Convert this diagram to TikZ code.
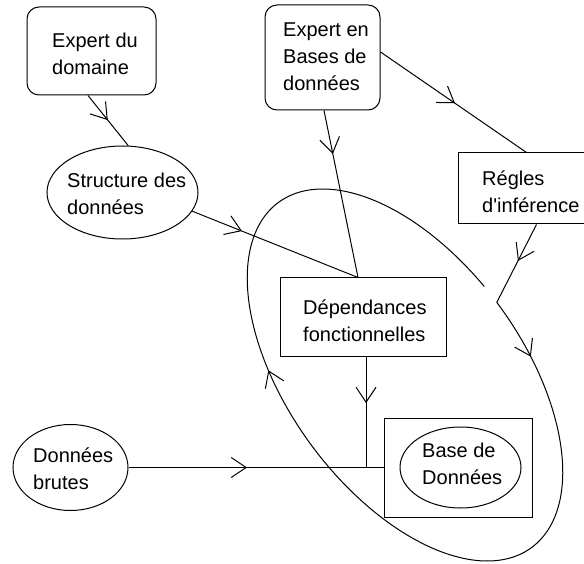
\documentclass[tikz,border=0pt]{standalone}
\usepackage{fontspec}
\setmainfont{Liberation Sans}
\usetikzlibrary{arrows.meta,calc,decorations.markings,shapes.geometric}
\tikzset{
  shp/.style={draw, line width=1pt, inner sep=0pt},
  rbox/.style={shp, rectangle, rounded corners=12pt},
  sbox/.style={shp, rectangle},
  ell/.style={shp, ellipse},
  txt/.style={inner sep=0pt, anchor=north west, align=left, font=\fontsize{20}{27}\selectfont},
  conn/.style={line width=1pt},
  midarrow/.style={conn, postaction={decorate}, decoration={markings, mark=at position #1 with {\arrow{Straight Barb[length=15pt,width=20pt,line width=1pt]}}}}
}
\begin{document}
\begin{tikzpicture}[x=1pt,y=-1pt]
\useasboundingbox (0,0) rectangle (584,564);
\fill[white] (0,0) rectangle (584,564);
\clip (0,0) rectangle (584,564);

% shapes
\node[rbox, minimum width=129pt, minimum height=88pt] (ed) at (91.5,51) {};
\node[rbox, minimum width=115pt, minimum height=105pt] (eb) at (322.5,57.5) {};
\node[sbox, minimum width=142pt, minimum height=71pt] (rg) at (529,188.5) {};
\node[ell, minimum width=151pt, minimum height=93pt] (sd) at (122.5,192.5) {};
\node[sbox, minimum width=166pt, minimum height=78pt] (dep) at (363,317) {};
\node[sbox, minimum width=148pt, minimum height=99pt] (bd) at (458,467.5) {};
\node[ell, minimum width=121pt, minimum height=81pt] (bde) at (460.5,467.5) {};
\node[ell, minimum width=115pt, minimum height=86pt] (db) at (70.5,467.5) {};

% texts
\node[txt] (edt) at (52,33) {Expert du\\domaine};
\node[txt] (ebt) at (283,23) {Expert en\\Bases de\\données};
\node[txt] (rgt) at (482,171) {Régles\\d\textquotesingle inférence};
\node[txt] (sdt) at (67,173) {Structure des\\données};
\node[txt] (dept) at (303,300) {Dépendances\\fonctionnelles};
\node[txt] (bdt) at (422,443) {Base de\\Données};
\node[txt] (dbt) at (33,448) {Données\\brutes};

% junctions
\coordinate (j) at (497,302);
\coordinate (bj) at (366,467.5);

% connectors
\draw[midarrow=0.49] ($(ed.south)+(-3.5,0)$) -- (sd.83);
\draw[midarrow=0.30] (sd.-15) -- ($(dep.north)+(-5,0)$);
\draw[midarrow=0.26] ($(eb.south)+(1.5,0)$) -- ($(dep.north)+(-5,0)$);
\draw[midarrow=0.51] ($(eb.east)+(0,-5.5)$) -- ($(rg.north west)+(69,0)$);
\draw[midarrow=0.47] ($(rg.south west)+(79,0)$) -- (j);
\draw[midarrow=0.42] ($(dep.south)+(3,0)$) -- (bj);
\draw[midarrow=0.465] (db.east) -- (bd.west);

% big loop
\draw[conn, line join=round, postaction={decorate}, decoration={markings,
   mark=at position 0.062 with {\arrow{Straight Barb[length=15pt,width=20pt,line width=1pt]}},
   mark=at position 0.596 with {\arrow{Straight Barb[length=15pt,width=20pt,line width=1pt]}}}]
  (j) -- plot[domain=268.8:623.4, samples=240, variable=\t]
  ({405+214*cos(\t)*0.5906-117*sin(\t)*0.8070},{375+214*cos(\t)*0.8070+117*sin(\t)*0.5906});
\end{tikzpicture}
\end{document}
